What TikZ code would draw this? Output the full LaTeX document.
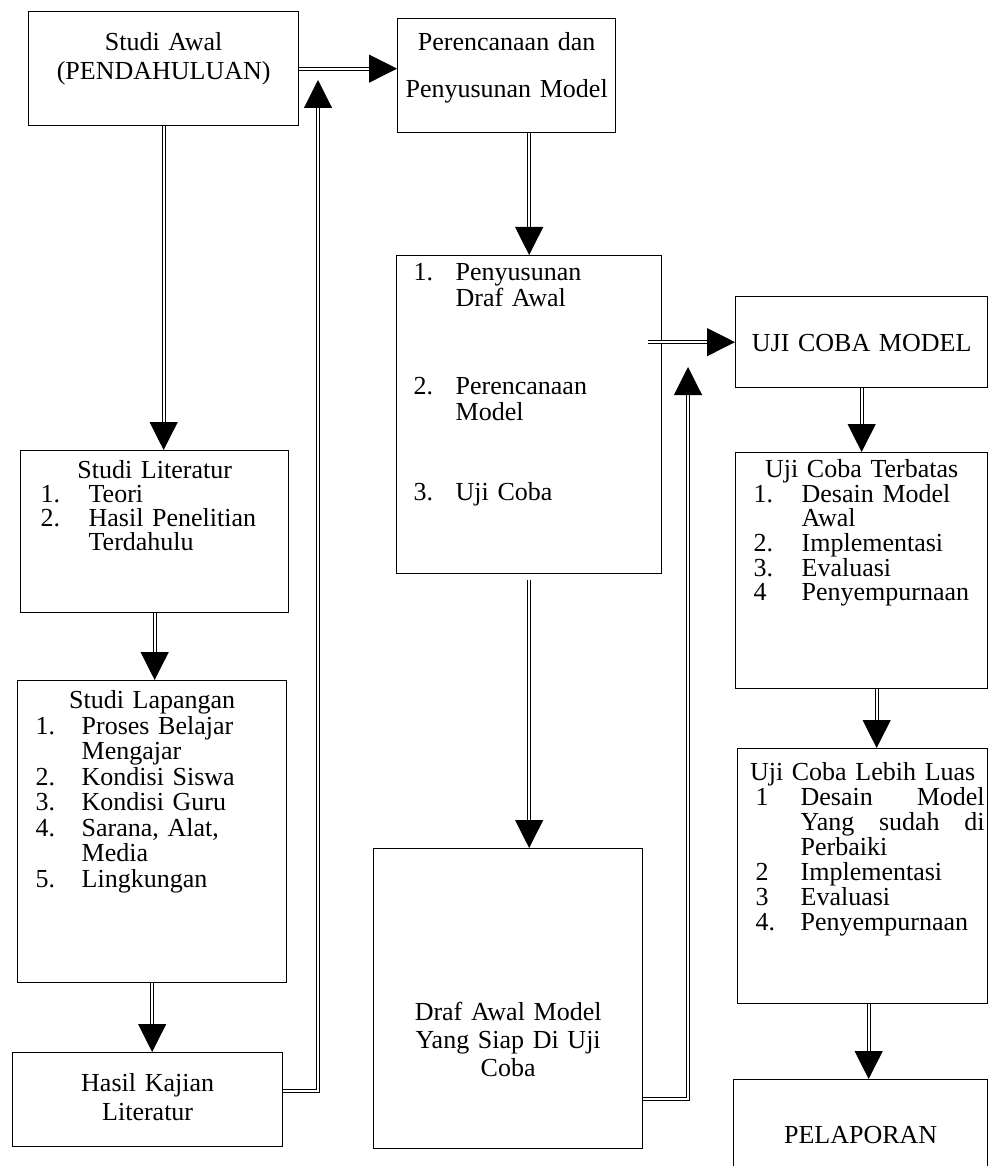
\documentclass[tikz,border=0pt]{standalone}
\usepackage{fontspec}
\setmainfont{Liberation Serif}
\usetikzlibrary{arrows.meta}
\newlength{\numin}
\newlength{\numw}
\newcommand{\nitem}[2]{\hspace*{\numin}\makebox[\numw][l]{#1}#2}
\newcommand{\ncont}[1]{\hspace*{\dimexpr\numin+\numw\relax}#1}
\newcommand{\ctr}[1]{\makebox[\linewidth]{#1}}

\begin{document}
\begin{tikzpicture}[x=1pt,y=-1pt,
  box/.style={draw,line width=1.3pt,anchor=north west,inner sep=0pt,align=left,
              font=\fontsize{26}{25}\selectfont},
  cbox/.style={box,align=center},
  list/.style 2 args={execute at begin node={\setlength{\numin}{#1}\setlength{\numw}{#2}}},
  link/.style={double,double distance=2pt,line width=1.1pt,
               -{Triangle[length=28pt,width=28pt]}}
]
\clip (0,0) rectangle (990,1166);

% left column
\node[cbox,text width=270pt,text height=39pt,text depth=75pt,
      font=\fontsize{26}{29}\selectfont] (awal) at (28,11) {Studi Awal\\(PENDAHULUAN)};
\node[box,list={20pt}{48pt},text width=268pt,text height=28pt,text depth=134pt,
      font=\fontsize{26}{24}\selectfont] (literatur) at (20,450)
  {\ctr{Studi Literatur}\\\nitem{1.}{Teori}\\\nitem{2.}{Hasil Penelitian}\\\ncont{Terdahulu}};
\node[box,list={18pt}{46pt},text width=269pt,text height=28pt,text depth=274pt,
      font=\fontsize{26}{25.5}\selectfont] (lapangan) at (17,680)
  {\ctr{Studi Lapangan}\\\nitem{1.}{Proses Belajar}\\\ncont{Mengajar}\\
   \nitem{2.}{Kondisi Siswa}\\\nitem{3.}{Kondisi Guru}\\\nitem{4.}{Sarana, Alat,}\\
   \ncont{Media}\\\nitem{5.}{Lingkungan}};
\node[cbox,text width=270pt,text height=39pt,text depth=55pt,
      font=\fontsize{26}{29}\selectfont] (kajian) at (12,1052) {Hasil Kajian\\Literatur};

% middle column
\node[cbox,text width=218pt,text height=32pt,text depth=82pt,
      font=\fontsize{26}{47}\selectfont] (rencana) at (397,18) {Perencanaan dan\\Penyusunan Model};
\node[box,list={17pt}{42pt},text width=265pt,text height=25pt,text depth=293pt,
      font=\fontsize{26}{26}\selectfont] (penyusunan) at (396,255)
  {\nitem{1.}{Penyusunan}\\\ncont{Draf Awal}\\[62pt]\nitem{2.}{Perencanaan}\\\ncont{Model}\\[54pt]
   \nitem{3.}{Uji Coba}};
\node[cbox,text width=269pt,text height=172pt,text depth=128pt,
      font=\fontsize{26}{28}\selectfont] (draf) at (373,848) {Draf Awal Model\\Yang Siap Di Uji\\Coba};

% right column
\node[cbox,text width=252pt,text height=55pt,text depth=36pt] (ujicoba) at (735,296) {UJI COBA MODEL};
\node[box,list={18pt}{48pt},text width=252pt,text height=25pt,text depth=211pt,
      font=\fontsize{26}{24.6}\selectfont] (terbatas) at (735,452)
  {\ctr{Uji Coba Terbatas}\\\nitem{1.}{Desain Model}\\\ncont{Awal}\\\nitem{2.}{Implementasi}\\
   \nitem{3.}{Evaluasi}\\\nitem{4}{Penyempurnaan}};
\node[box,list={18pt}{45pt},text width=250pt,text height=32pt,text depth=223pt] (luas) at (737,748)
  {\ctr{Uji Coba Lebih Luas}\\\nitem{1}{\makebox[184pt][l]{Desain\hfill Model}}\\
   \ncont{\makebox[184pt][l]{Yang\hfill sudah\hfill di}}\\\ncont{Perbaiki}\\\nitem{2}{Implementasi}\\
   \nitem{3}{Evaluasi}\\\nitem{4.}{Penyempurnaan}};
\node[cbox,text width=254pt,text height=64pt,text depth=40pt] (pelaporan) at (733,1079) {PELAPORAN};

\coordinate (kajianup) at (318,80);
\coordinate (drafup) at (688,367);

\draw[link] (awal.east) -- (awal.east -| rencana.west);
\draw[link] (awal.south) -- (awal.south |- literatur.north);
\draw[link] (literatur.south) -- (literatur.south |- lapangan.north);
\draw[link] (lapangan.south) -- (lapangan.south |- kajian.north);
\draw[link] ([yshift=9pt]kajian.east) -| (kajianup);
\draw[link] (rencana.south -| penyusunan.north) -- (penyusunan.north);
\draw[link] ([xshift=-14pt]penyusunan.east |- ujicoba.west) -- (ujicoba.west);
\draw[link] ([yshift=-6pt]penyusunan.south) -- (penyusunan.south |- draf.north);
\draw[link] ([yshift=50pt]draf.south east) -| (drafup);
\draw[link] (ujicoba.south) -- (ujicoba.south |- terbatas.north);
\draw[link] ([xshift=15pt]terbatas.south) -- ([xshift=15pt]terbatas.south |- luas.north);
\draw[link] ([xshift=6pt]luas.south) -- ([xshift=6pt]luas.south |- pelaporan.north);
\end{tikzpicture}
\end{document}
